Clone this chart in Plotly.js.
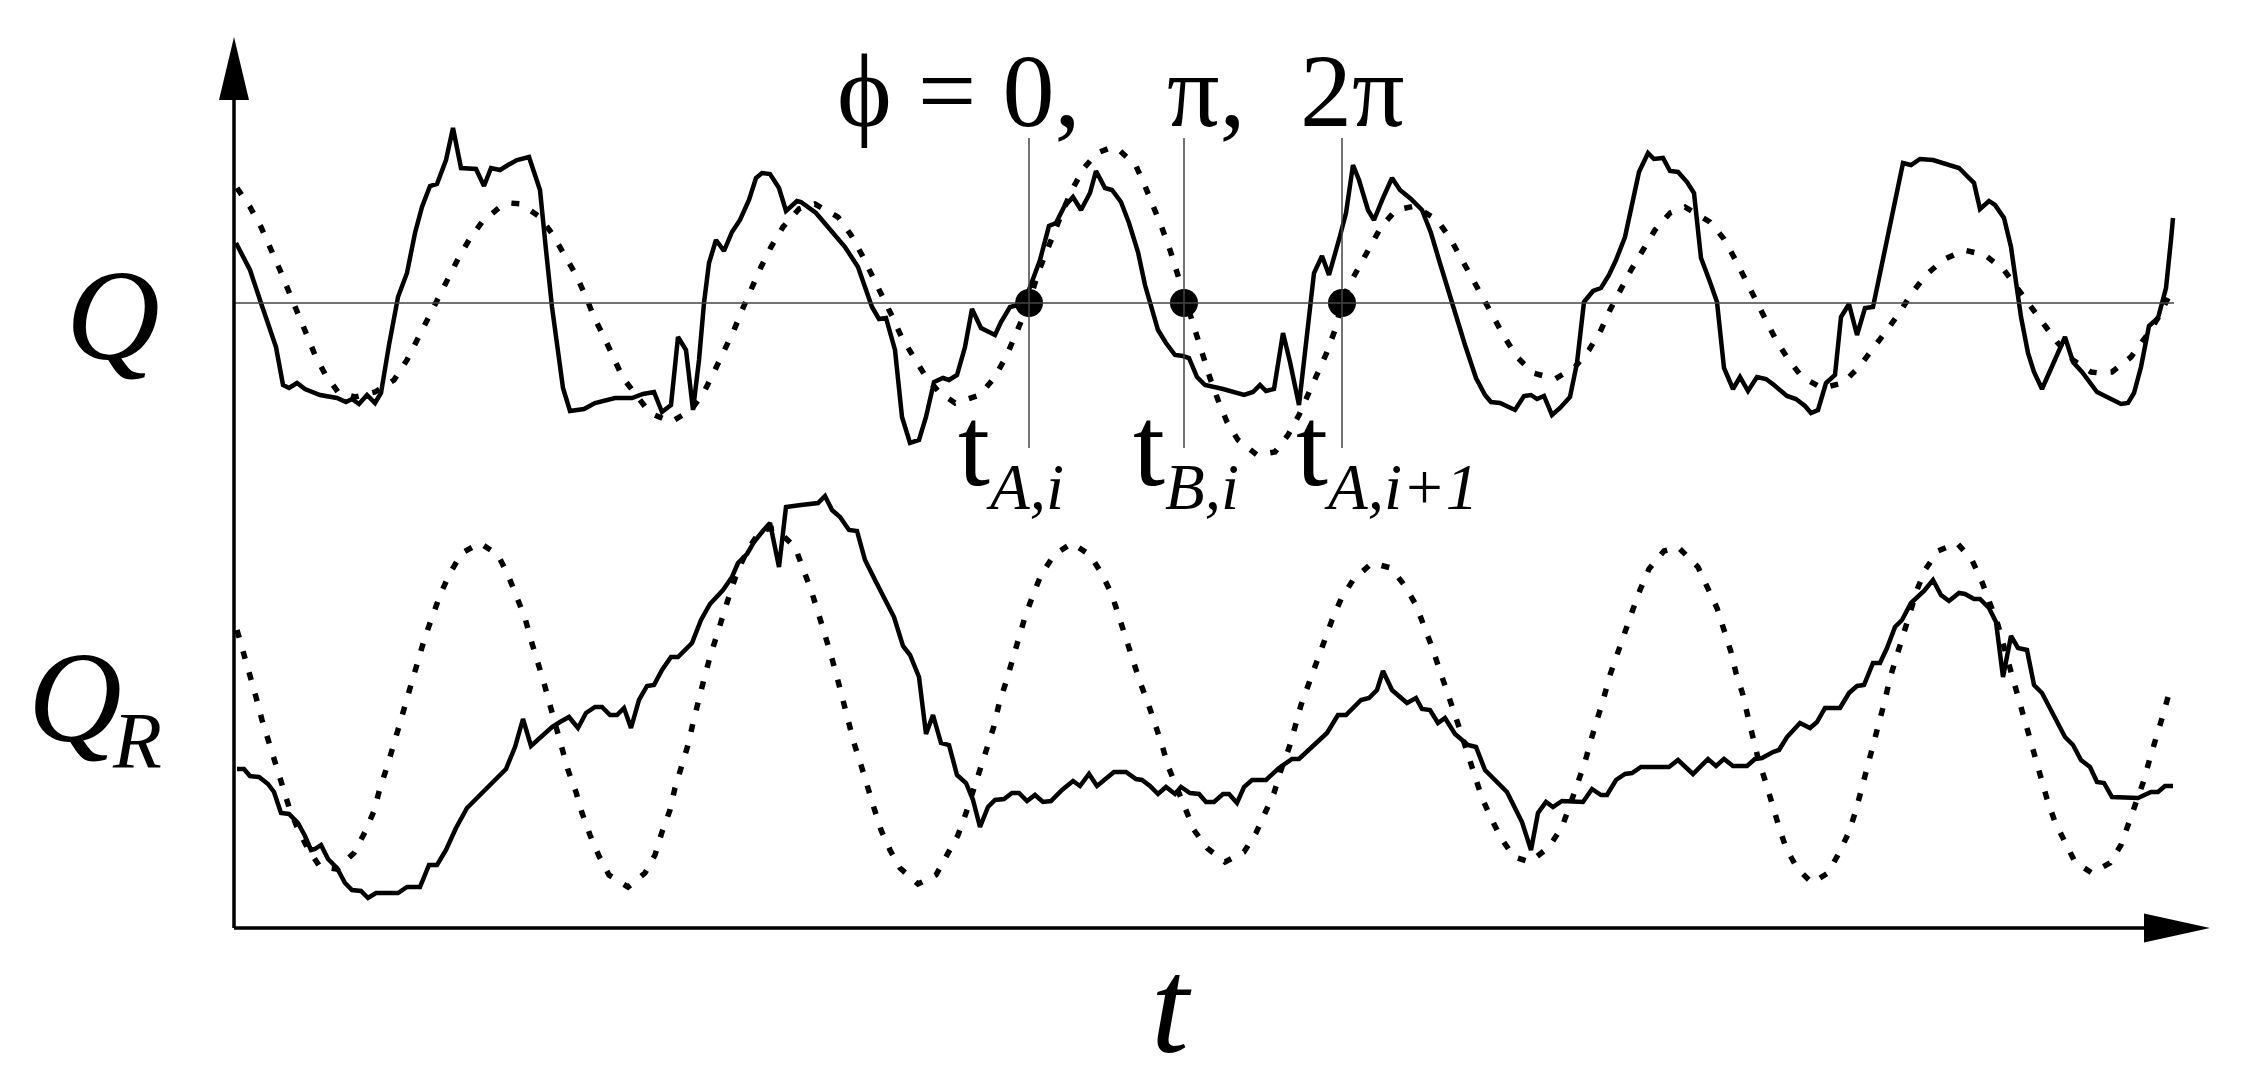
<!DOCTYPE html>
<html>
<head>
<meta charset="utf-8">
<script src="https://cdn.plot.ly/plotly-3.0.1.min.js"></script>
<style>html,body{margin:0;padding:0;background:#fff;overflow:hidden}#plot{width:2250px;height:1083px}</style>
</head>
<body>
<div id="plot"></div>
<script>
// ---- upper panel: Q (solid) and its reference oscillation (dotted) ----
const qT = [2,16,27,34,42,49,55,63,71,86,103,112,118,125,133,141,147,155,164,173,181,188,196,203,212,219,227,242,250,257,266,274,283,295,306,312,318,329,336,350,361,381,398,409,420,428,437,444,452,459,465,470,475,482,490,498,506,515,522,528,536,545,552,563,567,582,597,611,624,632,638,645,652,661,668,676,685,692,700,709,715,723,731,738,747,761,767,776,789,796,806,815,822,830,839,847,856,862,871,878,887,895,904,911,917,924,932,941,949,955,963,971,989,997,1010,1019,1026,1032,1040,1049,1056,1065,1071,1080,1088,1095,1106,1112,1119,1125,1134,1140,1149,1158,1166,1177,1188,1197,1205,1214,1223,1231,1242,1251,1257,1266,1281,1290,1297,1303,1310,1318,1326,1336,1343,1350,1359,1367,1375,1382,1391,1397,1405,1414,1420,1429,1436,1444,1453,1460,1467,1476,1483,1490,1499,1506,1514,1523,1532,1540,1553,1562,1571,1577,1584,1592,1601,1607,1615,1623,1631,1639,1646,1653,1662,1669,1677,1686,1699,1712,1725,1733,1740,1746,1755,1761,1770,1777,1783,1787,1794,1800,1808,1818,1831,1839,1848,1863,1874,1887,1894,1900,1907,1915,1924,1932,1937,1939];
const qVal = [60,33,0,-20,-44,-82,-85,-80,-86,-92,-95,-99,-96,-101,-92,-100,-90,-42,6,30,70,96,117,119,143,175,135,134,117,135,133,138,143,146,113,53,-4,-85,-108,-106,-100,-95,-95,-91,-89,-109,-102,-34,-47,-107,-57,0,40,63,52,71,83,103,125,130,129,115,92,102,101,90,73,56,36,13,-4,-16,-15,-47,-114,-140,-137,-114,-79,-75,-77,-72,-44,-6,-25,-32,-19,-4,-1,16,43,77,80,96,106,93,110,132,115,113,101,80,51,18,-4,-27,-40,-52,-53,-55,-74,-82,-86,-88,-92,-89,-82,-88,-86,-30,-59,-102,-50,30,47,28,67,90,138,123,93,83,105,125,113,104,93,70,43,13,-14,-42,-75,-92,-99,-100,-107,-93,-92,-96,-93,-112,-105,-94,-60,1,12,15,28,43,66,93,131,150,144,145,132,131,121,110,45,21,1,-65,-86,-74,-88,-74,-76,-82,-93,-96,-103,-110,-107,-80,-72,-14,-1,-32,-5,-4,30,63,106,140,138,144,143,139,135,127,120,94,102,98,85,56,16,-14,-50,-69,-86,-64,-34,-59,-69,-89,-94,-101,-100,-90,-64,-23,-15,15,63,85];

const qRefT = [3,16,27,37,46,55,63,72,81,91,104,121,141,160,173,183,193,203,213,224,235,248,266,276,287,306,319,331,342,352,360,370,380,389,416,437,457,470,480,491,500,509,517,527,537,549,565,581,604,617,628,639,650,658,668,679,692,705,721,746,760,772,781,789,795,804,813,822,830,839,850,863,876,884,902,911,920,928,936,943,950,956,963,969,976,984,993,1004,1023,1041,1054,1065,1075,1084,1093,1101,1108,1114,1125,1136,1147,1162,1181,1203,1216,1227,1238,1249,1260,1271,1283,1299,1321,1341,1355,1367,1376,1386,1397,1409,1421,1436,1451,1476,1490,1501,1512,1522,1532,1542,1554,1568,1588,1609,1625,1640,1653,1666,1678,1692,1709,1730,1751,1770,1783,1796,1809,1823,1839,1857,1866,1878,1897,1911,1924,1934];
const qRefVal = [115,96,76,55,33,11,-10,-30,-52,-71,-89,-94,-89,-77,-57,-37,-17,1,23,44,63,81,96,100,99,86,68,48,28,6,-14,-34,-54,-75,-110,-119,-107,-89,-69,-47,-27,-5,14,36,56,76,94,99,86,68,48,26,5,-13,-35,-54,-74,-89,-100,-92,-75,-54,-34,-14,0,30,53,73,95,115,135,150,155,154,137,117,96,75,53,31,8,-14,-34,-55,-75,-97,-119,-137,-152,-149,-132,-112,-90,-70,-49,-27,0,16,36,56,76,93,97,83,65,45,25,4,-17,-35,-54,-70,-76,-64,-47,-27,-7,13,33,53,73,90,96,81,64,44,23,3,-17,-37,-56,-74,-85,-80,-64,-45,-27,-9,10,28,43,53,48,33,16,-1,-20,-39,-57,-69,-70,-69,-54,-35,-15,5];

// ---- lower panel: Q_R (solid) and its reference oscillation (dotted) ----
const qrT = [3,10,16,25,34,40,47,55,64,71,77,81,87,94,103,111,118,127,134,142,164,173,186,195,203,212,222,233,246,259,272,281,289,297,307,318,326,335,344,352,361,368,376,383,390,397,405,413,420,428,437,444,458,467,476,489,498,504,513,520,528,536,545,552,567,584,591,598,606,615,623,631,641,650,660,669,676,685,692,699,707,715,723,732,739,746,754,761,770,778,785,793,801,809,817,828,839,846,855,863,872,880,892,902,908,916,924,932,941,947,956,965,972,980,989,995,1003,1010,1018,1032,1045,1058,1065,1080,1093,1104,1112,1127,1135,1143,1149,1158,1173,1182,1188,1196,1204,1211,1221,1234,1242,1251,1273,1288,1297,1304,1312,1319,1328,1349,1358,1367,1373,1382,1391,1398,1407,1435,1444,1459,1474,1482,1490,1499,1513,1521,1528,1539,1545,1553,1566,1576,1583,1591,1606,1615,1623,1630,1639,1646,1653,1661,1668,1677,1690,1699,1707,1715,1725,1731,1740,1746,1755,1762,1769,1777,1784,1793,1800,1808,1818,1831,1839,1847,1856,1863,1870,1878,1904,1911,1917,1924,1931,1939];
const qrVal = [159,159,152,151,144,136,115,114,105,92,78,79,83,69,60,45,38,37,30,35,35,41,41,63,63,78,100,120,133,146,159,181,209,182,191,201,206,211,200,215,221,221,213,213,220,200,228,242,243,258,271,271,285,308,324,338,351,365,374,386,396,405,361,421,423,425,432,418,411,398,397,368,348,331,311,282,273,251,194,213,185,183,153,145,128,101,121,128,129,135,135,127,133,126,127,138,147,142,154,142,150,156,156,149,148,142,134,141,134,141,135,134,126,126,134,134,125,141,148,148,160,169,169,183,195,213,213,228,230,238,257,238,225,230,219,218,205,210,194,183,181,158,136,106,78,115,126,121,127,126,139,133,133,148,154,155,161,161,168,154,169,162,169,162,162,169,170,176,178,191,205,200,206,220,220,235,242,243,265,265,280,301,308,325,337,348,333,327,335,334,329,329,320,306,251,292,280,278,243,235,216,191,183,168,161,146,145,131,130,133,136,136,142,142];

const qrRefT = [3,10,16,22,28,35,41,48,55,63,73,86,103,120,131,140,146,153,160,166,172,178,184,191,199,206,216,228,246,264,274,283,291,297,304,310,316,322,329,334,342,348,356,365,375,394,411,421,428,436,441,448,454,459,464,470,476,483,489,497,504,514,527,541,561,569,577,584,591,597,603,608,615,620,627,633,640,647,656,666,684,702,713,724,732,739,747,753,760,765,772,778,784,791,799,807,820,838,856,868,878,885,893,900,906,914,921,928,934,943,952,960,973,991,1010,1022,1031,1040,1047,1055,1061,1067,1075,1082,1090,1098,1107,1119,1138,1157,1171,1182,1190,1198,1205,1213,1220,1227,1234,1240,1248,1257,1267,1280,1296,1315,1328,1336,1344,1351,1357,1364,1370,1376,1383,1391,1398,1406,1415,1430,1444,1464,1474,1483,1490,1497,1502,1509,1514,1519,1525,1532,1538,1545,1552,1563,1578,1594,1605,1615,1622,1628,1633,1639,1645,1651,1656,1663,1669,1677,1683,1691,1704,1723,1738,1748,1756,1764,1770,1776,1782,1788,1794,1800,1807,1813,1821,1831,1841,1858,1876,1887,1895,1902,1910,1916,1923,1929,1936];
const qrRefVal = [298,275,253,231,208,186,165,143,121,101,81,61,59,75,96,117,140,161,183,205,226,248,270,291,313,333,355,375,385,373,353,331,310,288,266,245,223,201,180,158,136,115,93,72,53,41,55,73,96,118,140,161,183,205,227,249,271,294,316,338,358,379,398,400,381,360,338,316,295,273,251,230,206,185,163,141,120,98,78,60,44,53,73,93,115,136,158,180,202,224,246,268,289,311,333,353,373,385,373,354,333,311,290,268,246,225,205,183,162,141,118,98,80,66,76,95,115,135,158,180,201,223,245,266,286,308,329,348,365,360,342,323,303,281,260,238,216,195,173,151,130,110,90,71,66,81,101,123,145,166,188,210,231,253,274,295,316,338,359,377,381,361,341,320,298,276,255,233,211,188,166,145,123,101,80,60,45,55,75,96,118,140,162,185,206,228,250,272,294,315,338,358,377,385,368,346,325,303,281,260,238,216,194,172,151,129,106,86,66,55,65,83,105,126,148,170,191,213,238];

// ---- marked instants and labels ----
const markT = [795, 950, 1108];          // t_{A,i}, t_{B,i}, t_{A,i+1}
const markSubs = ['A,i', 'B,i', 'A,i+1'];
const phaseLabels = ['\u03D5 = 0,', '\u03C0,', '2\u03C0'];

const serif = '"Liberation Serif", "Times New Roman", serif';
const solid = {color: '#000', width: 4.5};
const dotted = {color: '#000', width: 5.5, dash: '8px,14px'};

const traces = [
  {x: qRefT, y: qRefVal, mode: 'lines', line: dotted, yaxis: 'y', hoverinfo: 'skip'},
  {x: qT, y: qVal, mode: 'lines', line: solid, yaxis: 'y', hoverinfo: 'skip'},
  {x: qrRefT, y: qrRefVal, mode: 'lines', line: dotted, yaxis: 'y2', hoverinfo: 'skip'},
  {x: qrT, y: qrVal, mode: 'lines', line: solid, yaxis: 'y2', hoverinfo: 'skip'},
  {x: markT, y: markT.map(() => 0), mode: 'markers', marker: {color: '#000', size: 28}, yaxis: 'y', hoverinfo: 'skip'}
];

const shapes = [
  // zero line of Q
  {type: 'line', xref: 'x', yref: 'y', x0: 0, x1: 1940, y0: 0, y1: 0, line: {color: '#444', width: 1.5}},
  // time axis
  {type: 'line', xref: 'x', yref: 'y2', x0: 0, x1: 1912, y0: 0, y1: 0, line: {color: '#000', width: 3.5}},
  {type: 'path', xref: 'x', yref: 'y2', path: 'M1976,0 L1910,14.5 L1910,-14.5 Z', fillcolor: '#000', line: {width: 0}},
  // value axis
  {type: 'line', xref: 'x', yref: 'y2', x0: 0, x1: 0, y0: 0, y1: 830, line: {color: '#000', width: 3.5}},
  {type: 'path', xref: 'x', yref: 'y2', path: 'M0,891 L-15,828 L15,828 Z', fillcolor: '#000', line: {width: 0}}
];
markT.forEach(t => shapes.push({type: 'line', xref: 'x', yref: 'y', x0: t, x1: t, y0: 165, y1: -145, line: {color: '#444', width: 1.5}}));

const ann = (text, x, y, size, xanchor) => ({text, x, y, xref: 'x', yref: 'y2', showarrow: false,
  xanchor: xanchor || 'center', yanchor: 'middle', font: {family: serif, size, color: '#000'}});

const annotations = [
  ann('<i>Q</i>', -121, 613, 130),
  ann('<span style="letter-spacing:-9px"><i>Q</i></span><sub><span style="font-size:80px"><i>R</i></span></sub>', -208, 223, 130, 'left'),
  ann('<i>t</i>', 937, -78, 136),
  ann(phaseLabels[0], 848, 838, 104, 'right'),
  ann(phaseLabels[1], 931, 838, 104, 'left'),
  ann(phaseLabels[2], 1064, 838, 104, 'left')
];
const markLeft = [722, 897, 1060];
markSubs.forEach((s, i) => annotations.push(
  ann('t<sub><span style="font-size:65px"><i>' + s + '</i></span></sub>', markLeft[i], 475, 115, 'left')));

const hidden = {visible: false, showgrid: false, zeroline: false, fixedrange: true};
const layout = {
  width: 2250, height: 1083, autosize: false,
  margin: {l: 0, r: 0, t: 0, b: 0, pad: 0},
  paper_bgcolor: '#fff', plot_bgcolor: '#fff', showlegend: false,
  xaxis: Object.assign({range: [-234, 2016]}, hidden),
  yaxis: Object.assign({range: [-780, 303]}, hidden),
  yaxis2: Object.assign({range: [-155, 928], overlaying: 'y'}, hidden),
  shapes, annotations
};
Plotly.newPlot('plot', traces, layout, {staticPlot: true, displayModeBar: false});
</script>
</body>
</html>
